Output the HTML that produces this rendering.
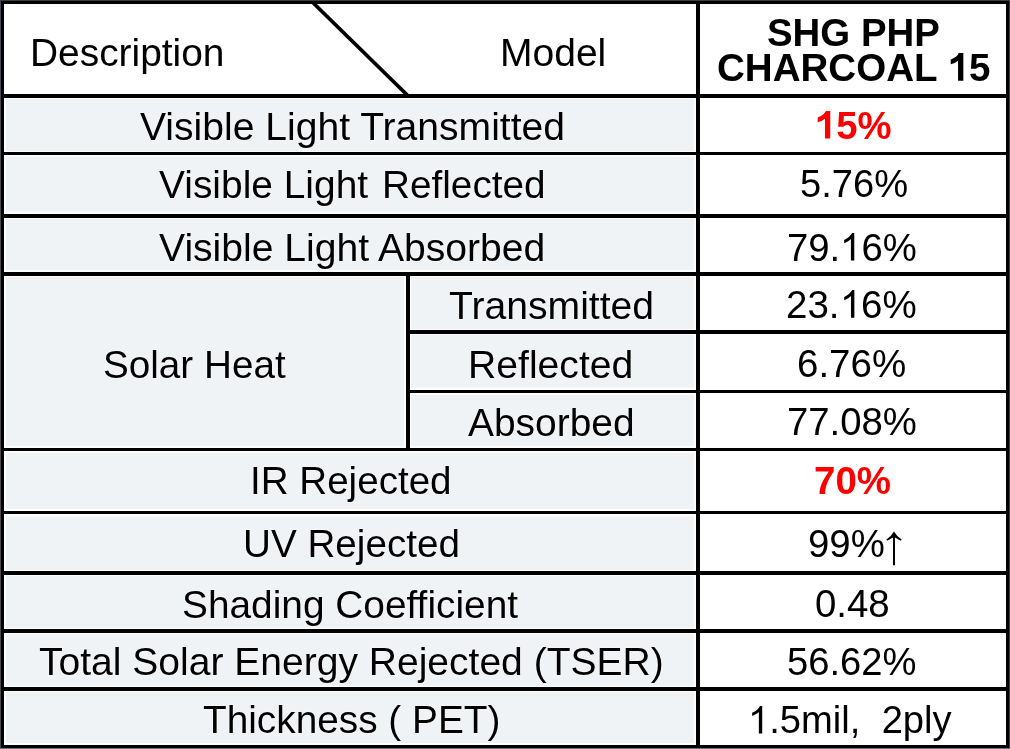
<!DOCTYPE html>
<html><head><meta charset="utf-8"><style>
html,body{margin:0;padding:0;background:#fff;}
body{width:1010px;height:749px;position:relative;overflow:hidden;font-family:"Liberation Sans",sans-serif;}
.k{position:absolute;background:#000;}
.g{position:absolute;background:#f0f3f5;}
.t{position:absolute;white-space:pre;line-height:1;will-change:transform;text-shadow:0 0 1.2px #fff,0 0 1.2px #fff;}
.ov{position:absolute;left:0;top:0;}
.e{position:absolute;}
.one{display:inline-block;width:0.55615em;height:0.71875em;position:relative;vertical-align:baseline}.one svg{position:absolute;left:0;top:0;width:100%;height:100%;fill:currentColor;overflow:visible}
</style></head><body>
<div class="g" style="left:5.60px;top:99.30px;width:688.80px;height:51.40px"></div><div class="g" style="left:5.60px;top:156.80px;width:688.80px;height:55.60px"></div><div class="g" style="left:5.60px;top:219.30px;width:688.80px;height:51.10px"></div><div class="g" style="left:5.60px;top:452.60px;width:688.80px;height:56.80px"></div><div class="g" style="left:5.60px;top:515.80px;width:688.80px;height:53.80px"></div><div class="g" style="left:5.60px;top:576.20px;width:688.80px;height:51.50px"></div><div class="g" style="left:5.60px;top:634.30px;width:688.80px;height:51.30px"></div><div class="g" style="left:5.60px;top:692.30px;width:688.80px;height:51.10px"></div><div class="g" style="left:5.60px;top:277.20px;width:398.80px;height:169.00px"></div><div class="g" style="left:411.20px;top:277.20px;width:283.20px;height:51.40px"></div><div class="g" style="left:411.20px;top:335.20px;width:283.20px;height:53.00px"></div><div class="g" style="left:411.20px;top:394.80px;width:283.20px;height:51.40px"></div>
<div class="k" style="left:0.00px;top:0.00px;width:1010.00px;height:3.50px"></div><div class="k" style="left:0.00px;top:94.00px;width:1010.00px;height:3.70px"></div><div class="k" style="left:0.00px;top:152.30px;width:1010.00px;height:2.90px"></div><div class="k" style="left:0.00px;top:214.00px;width:1010.00px;height:3.70px"></div><div class="k" style="left:0.00px;top:272.00px;width:1010.00px;height:3.60px"></div><div class="k" style="left:406.00px;top:330.20px;width:604.00px;height:3.40px"></div><div class="k" style="left:406.00px;top:389.80px;width:604.00px;height:3.40px"></div><div class="k" style="left:0.00px;top:447.80px;width:1010.00px;height:3.20px"></div><div class="k" style="left:0.00px;top:511.00px;width:1010.00px;height:3.20px"></div><div class="k" style="left:0.00px;top:571.20px;width:1010.00px;height:3.40px"></div><div class="k" style="left:0.00px;top:629.30px;width:1010.00px;height:3.40px"></div><div class="k" style="left:0.00px;top:687.20px;width:1010.00px;height:3.50px"></div><div class="k" style="left:0.00px;top:745.00px;width:1010.00px;height:3.20px"></div><div class="k" style="left:0.00px;top:0.00px;width:4.00px;height:749.00px"></div><div class="k" style="left:696.00px;top:0.00px;width:3.60px;height:749.00px"></div><div class="k" style="left:406.00px;top:272.00px;width:3.60px;height:179.00px"></div><div class="k" style="left:1006.00px;top:0.00px;width:4.00px;height:749.00px"></div>
<div class="e" style="left:0;top:0;width:1px;height:749px;background:#4a4a55"></div><div class="e" style="left:0;top:0;width:1010px;height:1px;background:#3c3c48"></div><div class="e" style="left:1009px;top:0;width:1px;height:749px;background:#3a3a4c"></div><div class="e" style="left:0;top:748px;width:1010px;height:1px;background:#70707c"></div>
<svg class="ov" width="1010" height="749" viewBox="0 0 1010 749">
<line x1="312.3" y1="2" x2="408.2" y2="96" stroke="#000" stroke-width="3.8"/>
<path d="M894 531.4 Q891 536.5 886.4 539.6 L887.2 540.8 Q890.5 538.8 893 537.6 L893 565.2 L895 565.2 L895 537.6 Q897.5 538.8 900.8 540.8 L901.6 539.6 Q897 536.5 894 531.4 Z" fill="#000"/>
</svg>
<div class="t" style="left:30.19px;top:34.10px;font-size:38.89px;font-weight:400;color:#000">Description</div><div class="t" style="left:499.98px;top:33.07px;font-size:39.03px;font-weight:400;color:#000">Model</div><div class="t" style="left:766.75px;top:14.21px;font-size:38.42px;font-weight:700;color:#000">SHG PHP</div><div class="t" style="left:716.66px;top:49.31px;font-size:38.56px;font-weight:700;color:#000">CHARCOAL <span class="one"><svg viewBox="0 0 1139 1472" preserveAspectRatio="none"><path d="M815 1472H534V412Q400 537 145 598V341Q300 297 420 202Q530 112 575 0H815Z"/></svg></span>5</div><div class="t" style="left:139.70px;top:107.40px;font-size:39.10px;font-weight:400;color:#000">Visible Light Transmitted</div><div class="t" style="left:159.20px;top:227.61px;font-size:39.12px;font-weight:400;color:#000">Visible Light Absorbed</div><div class="t" style="left:102.76px;top:345.61px;font-size:38.67px;font-weight:400;color:#000">Solar Heat</div><div class="t" style="left:448.82px;top:286.21px;font-size:39.13px;font-weight:400;color:#000">Transmitted</div><div class="t" style="left:467.77px;top:345.30px;font-size:39.14px;font-weight:400;color:#000">Reflected</div><div class="t" style="left:467.71px;top:404.01px;font-size:38.91px;font-weight:400;color:#000">Absorbed</div><div class="t" style="left:249.63px;top:461.81px;font-size:38.58px;font-weight:400;color:#000">IR Rejected</div><div class="t" style="left:242.50px;top:524.71px;font-size:38.65px;font-weight:400;color:#000">UV Rejected</div><div class="t" style="left:182.35px;top:585.61px;font-size:38.83px;font-weight:400;color:#000">Shading Coefficient</div><div class="t" style="left:39.32px;top:642.40px;font-size:39.04px;font-weight:400;color:#000">Total Solar Energy Rejected (TSER)</div><div class="t" style="left:203.13px;top:701.41px;font-size:38.79px;font-weight:400;color:#000">Thickness ( PET)</div><div class="t" style="left:814.72px;top:107.41px;font-size:38.32px;font-weight:700;color:#f00"><span class="one"><svg viewBox="0 0 1139 1472" preserveAspectRatio="none"><path d="M815 1472H534V412Q400 537 145 598V341Q300 297 420 202Q530 112 575 0H815Z"/></svg></span>5%</div><div class="t" style="left:799.78px;top:165.31px;font-size:38.12px;font-weight:400;color:#000">5.76%</div><div class="t" style="left:786.98px;top:228.81px;font-size:38.31px;font-weight:400;color:#000">79.<span class="one"><svg viewBox="0 0 1139 1472" preserveAspectRatio="none"><path d="M763 1472H583V325Q518 387 412 449Q306 511 223 542V368Q374 297 487 196Q600 95 647 0H763Z"/></svg></span>6%</div><div class="t" style="left:786.27px;top:285.80px;font-size:38.52px;font-weight:400;color:#000">23.<span class="one"><svg viewBox="0 0 1139 1472" preserveAspectRatio="none"><path d="M763 1472H583V325Q518 387 412 449Q306 511 223 542V368Q374 297 487 196Q600 95 647 0H763Z"/></svg></span>6%</div><div class="t" style="left:797.37px;top:344.81px;font-size:38.51px;font-weight:400;color:#000">6.76%</div><div class="t" style="left:786.98px;top:402.61px;font-size:38.31px;font-weight:400;color:#000">77.08%</div><div class="t" style="left:814.37px;top:461.71px;font-size:38.50px;font-weight:700;color:#f00">70%</div><div class="t" style="left:808.17px;top:525.21px;font-size:38.33px;font-weight:400;color:#000">99%</div><div class="t" style="left:815.36px;top:584.71px;font-size:38.39px;font-weight:400;color:#000">0.48</div><div class="t" style="left:787.37px;top:642.91px;font-size:38.19px;font-weight:400;color:#000">56.62%</div><div class="t" style="left:747.80px;top:700.81px;font-size:38.18px;font-weight:400;color:#000"><span class="one"><svg viewBox="0 0 1139 1472" preserveAspectRatio="none"><path d="M763 1472H583V325Q518 387 412 449Q306 511 223 542V368Q374 297 487 196Q600 95 647 0H763Z"/></svg></span>.5mil,&nbsp;&nbsp;2ply</div><div class="t" style="left:158.91px;top:166.30px;font-size:38.92px;font-weight:400;color:#000">Visible Light</div><div class="t" style="left:382.40px;top:166.30px;font-size:38.73px;font-weight:400;color:#000">Reflected</div>
</body></html>
